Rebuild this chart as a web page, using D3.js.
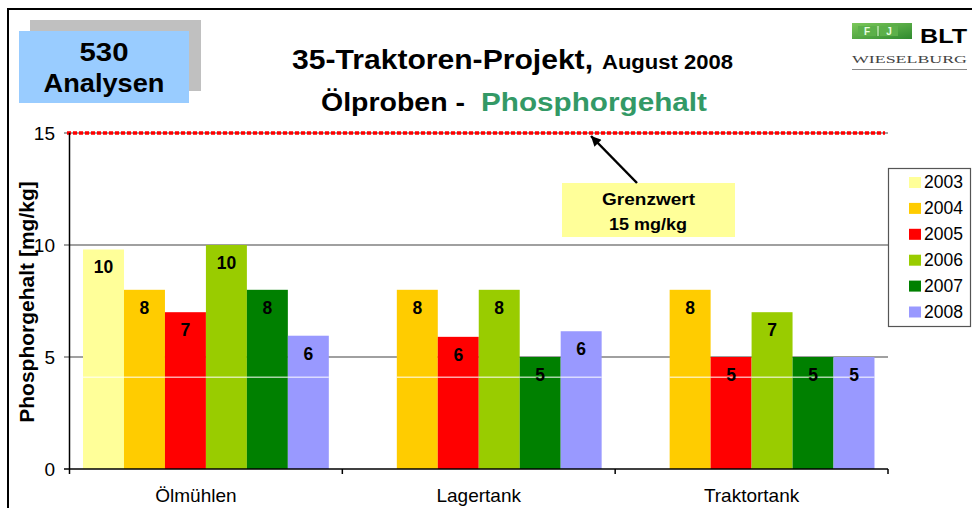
<!DOCTYPE html>
<html>
<head>
<meta charset="utf-8">
<script src="https://cdn.jsdelivr.net/npm/d3@7"></script>
<style>
  html, body { margin: 0; padding: 0; background: #ffffff; }
  svg { display: block; font-family: "Liberation Sans", Arial, sans-serif; }
</style>
</head>
<body>
<script>
// ---------- data ----------
const categories = ["Ölmühlen", "Lagertank", "Traktortank"];
const years = ["2003", "2004", "2005", "2006", "2007", "2008"];
const v2003 = [9.8, null, null];
const v2004 = [8.0, 8.0, 8.0];
const v2005 = [7.0, 5.9, 5.0];
const v2006 = [10.0, 8.0, 7.0];
const v2007 = [8.0, 5.0, 5.0];
const v2008 = [5.95, 6.15, 5.0];
const yTicks = [0, 5, 10, 15];
const limitValue = 15;
const sampleCount = "530";

const seriesValues = [v2003, v2004, v2005, v2006, v2007, v2008];
const seriesColors = ["#FFFF99", "#FFCC00", "#FF0000", "#99CC00", "#008000", "#9999FF"];

// ---------- layout ----------
const W = 972, H = 508;
const plot = { left: 69.5, right: 888, top: 133, bottom: 469 };

const svg = d3.select("body").append("svg").attr("width", W).attr("height", H);

const x0 = d3.scaleBand().domain(categories).range([plot.left, plot.right]).paddingInner(0).paddingOuter(0);
const x1 = d3.scaleBand().domain(years).range([0, x0.bandwidth()]).paddingInner(0).paddingOuter(0.33);
const y = d3.scaleLinear().domain([0, 15]).range([plot.bottom, plot.top]);
const color = d3.scaleOrdinal().domain(years).range(seriesColors);

function fit(sel, w) { return sel.attr("textLength", w).attr("lengthAdjust", "spacingAndGlyphs"); }

// outer frame (left + top)
svg.append("path").attr("d", `M8,${H + 5} L8,9 L${W + 5},9`)
  .attr("fill", "none").attr("stroke", "#000").attr("stroke-width", 2);

// ---------- gridlines ----------
svg.append("g").selectAll("line").data(yTicks.filter(d => d > 0)).join("line")
  .attr("x1", plot.left - 5.5).attr("x2", plot.right)
  .attr("y1", d => y(d)).attr("y2", d => y(d))
  .attr("stroke", "#a0a0a0").attr("stroke-width", 2);

// ---------- bars ----------
const rows = [];
categories.forEach((c, ci) => {
  years.forEach((yr, si) => {
    const v = seriesValues[si][ci];
    if (v != null) rows.push({ cat: c, year: yr, value: v });
  });
});

const gBars = svg.append("g");
gBars.selectAll("rect").data(rows).join("rect")
  .attr("x", d => x0(d.cat) + x1(d.year))
  .attr("y", d => y(d.value))
  .attr("width", x1.bandwidth())
  .attr("height", d => y(0) - y(d.value))
  .attr("fill", d => color(d.year));

// faint white highlight line crossing the bars (as in the original picture)
gBars.selectAll("line.hl").data(rows).join("line").attr("class", "hl")
  .attr("x1", d => x0(d.cat) + x1(d.year))
  .attr("x2", d => x0(d.cat) + x1(d.year) + x1.bandwidth())
  .attr("y1", y(4.1)).attr("y2", y(4.1))
  .attr("stroke", "#ffffff").attr("stroke-width", 1);

// value labels
gBars.selectAll("text").data(rows).join("text")
  .attr("x", d => x0(d.cat) + x1(d.year) + x1.bandwidth() / 2)
  .attr("y", d => y(d.value) + 24)
  .attr("text-anchor", "middle")
  .attr("font-size", 17.5).attr("font-weight", "bold").attr("fill", "#000")
  .text(d => Math.round(d.value));

// ---------- limit line ----------
svg.append("line")
  .attr("x1", plot.left - 2.5).attr("x2", plot.right - 3)
  .attr("y1", y(limitValue)).attr("y2", y(limitValue))
  .attr("stroke", "#FF0000").attr("stroke-width", 3.5).attr("stroke-dasharray", "4,2");

// ---------- axes ----------
svg.append("line").attr("x1", plot.left).attr("x2", plot.left)
  .attr("y1", plot.top).attr("y2", plot.bottom + 5)
  .attr("stroke", "#000").attr("stroke-width", 1.5);
svg.append("line").attr("x1", plot.left - 5.5).attr("x2", plot.left)
  .attr("y1", y(0)).attr("y2", y(0)).attr("stroke", "#000").attr("stroke-width", 1.5);

svg.append("g").selectAll("text").data(yTicks).join("text")
  .attr("x", 55).attr("y", d => y(d) + 7)
  .attr("text-anchor", "end").attr("font-size", 19).attr("fill", "#000")
  .text(d => d);

svg.append("line").attr("x1", plot.left).attr("x2", plot.right)
  .attr("y1", plot.bottom).attr("y2", plot.bottom)
  .attr("stroke", "#000").attr("stroke-width", 1.5);
const bounds = categories.map(c => x0(c)).concat([plot.right]);
svg.append("g").selectAll("line").data(bounds.slice(1)).join("line")
  .attr("x1", d => d).attr("x2", d => d)
  .attr("y1", plot.bottom).attr("y2", plot.bottom + 5)
  .attr("stroke", "#000").attr("stroke-width", 1.5);

svg.append("g").selectAll("text").data(categories).join("text")
  .attr("x", (d, i) => x0(d) + x0.bandwidth() / 2 - (i === 0 ? 10 : 0))
  .attr("y", 502)
  .attr("text-anchor", "middle").attr("font-size", 19).attr("fill", "#000")
  .text(d => d);

// y axis title
svg.append("text")
  .attr("transform", "translate(34,302) rotate(-90)")
  .attr("text-anchor", "middle").attr("font-size", 21).attr("font-weight", "bold")
  .text("Phosphorgehalt [mg/kg]");

// ---------- legend ----------
const lg = svg.append("g");
lg.append("rect").attr("x", 888.5).attr("y", 168.5).attr("width", 82).attr("height", 158)
  .attr("fill", "#fff").attr("stroke", "#555").attr("stroke-width", 1.2);
const li = lg.selectAll("g").data(years).join("g")
  .attr("transform", (d, i) => `translate(0,${182.5 + i * 25.9})`);
li.append("rect").attr("x", 909).attr("y", -5.5).attr("width", 12).attr("height", 11)
  .attr("fill", d => color(d));
li.append("text").attr("x", 924).attr("y", 5.5).attr("font-size", 17.5).attr("fill", "#000")
  .text(d => d);

// ---------- "530 Analysen" box ----------
svg.append("rect").attr("x", 30).attr("y", 20).attr("width", 171).attr("height", 71).attr("fill", "#C0C0C0");
svg.append("rect").attr("x", 19).attr("y", 31).attr("width", 170).attr("height", 72).attr("fill", "#99CCFF");
fit(svg.append("text").attr("x", 104).attr("y", 61).attr("text-anchor", "middle")
  .attr("font-size", 26).attr("font-weight", "bold").text(sampleCount), 49);
fit(svg.append("text").attr("x", 104).attr("y", 92).attr("text-anchor", "middle")
  .attr("font-size", 26).attr("font-weight", "bold").text("Analysen"), 121);

// ---------- title ----------
fit(svg.append("text").attr("x", 292).attr("y", 69)
  .attr("font-size", 27).attr("font-weight", "bold").text("35-Traktoren-Projekt,"), 301);
fit(svg.append("text").attr("x", 602).attr("y", 69)
  .attr("font-size", 20).attr("font-weight", "bold").text("August 2008"), 131);
fit(svg.append("text").attr("x", 321).attr("y", 111)
  .attr("font-size", 26).attr("font-weight", "bold").text("Ölproben -"), 144);
fit(svg.append("text").attr("x", 481).attr("y", 111)
  .attr("font-size", 26).attr("font-weight", "bold").attr("fill", "#339966").text("Phosphorgehalt"), 226);

// ---------- Grenzwert annotation ----------
svg.append("rect").attr("x", 562).attr("y", 183).attr("width", 173).attr("height", 54).attr("fill", "#FFFF99");
fit(svg.append("text").attr("x", 648.5).attr("y", 205).attr("text-anchor", "middle")
  .attr("font-size", 17).attr("font-weight", "bold").text("Grenzwert"), 93);
fit(svg.append("text").attr("x", 648).attr("y", 229.5).attr("text-anchor", "middle")
  .attr("font-size", 17).attr("font-weight", "bold").text(limitValue + " mg/kg"), 78);

const defs = svg.append("defs");
defs.append("marker").attr("id", "arr").attr("viewBox", "0 0 10 10")
  .attr("refX", 10).attr("refY", 5).attr("markerWidth", 12).attr("markerHeight", 10)
  .attr("markerUnits", "userSpaceOnUse").attr("orient", "auto")
  .append("path").attr("d", "M0,0 L10,5 L0,10 z").attr("fill", "#000");
svg.append("line").attr("x1", 637).attr("y1", 183).attr("x2", 591).attr("y2", 136)
  .attr("stroke", "#000").attr("stroke-width", 2.5).attr("marker-end", "url(#arr)");

// ---------- logo ----------
const grad = defs.append("linearGradient").attr("id", "lg1").attr("x1", 0).attr("y1", 0).attr("x2", 1).attr("y2", 1);
grad.append("stop").attr("offset", "0%").attr("stop-color", "#7cc85a");
grad.append("stop").attr("offset", "100%").attr("stop-color", "#2f8a2f");
svg.append("rect").attr("x", 852).attr("y", 23).attr("width", 60).attr("height", 16).attr("fill", "url(#lg1)");
svg.append("rect").attr("x", 858).attr("y", 26).attr("width", 18).attr("height", 10).attr("fill", "#5cb04a");
svg.append("rect").attr("x", 880).attr("y", 26).attr("width", 18).attr("height", 10).attr("fill", "#5cb04a");
svg.append("text").attr("x", 867).attr("y", 35).attr("text-anchor", "middle").attr("font-size", 10)
  .attr("font-weight", "bold").attr("fill", "#e8ffe0").text("F");
svg.append("text").attr("x", 889).attr("y", 35).attr("text-anchor", "middle").attr("font-size", 10)
  .attr("font-weight", "bold").attr("fill", "#e8ffe0").text("J");
svg.append("line").attr("x1", 878).attr("x2", 878).attr("y1", 26).attr("y2", 36).attr("stroke", "#e8ffe0").attr("stroke-width", 1);
fit(svg.append("text").attr("x", 920).attr("y", 43).attr("font-size", 21).attr("font-weight", "bold").text("BLT"), 47);
fit(svg.append("text").attr("x", 852).attr("y", 63).attr("font-family", "'Liberation Serif', 'DejaVu Serif', serif")
  .attr("font-size", 11).attr("fill", "#444").text("WIESELBURG"), 115);
svg.append("line").attr("x1", 852).attr("x2", 967).attr("y1", 69.5).attr("y2", 69.5).attr("stroke", "#888").attr("stroke-width", 1);
</script>
</body>
</html>
